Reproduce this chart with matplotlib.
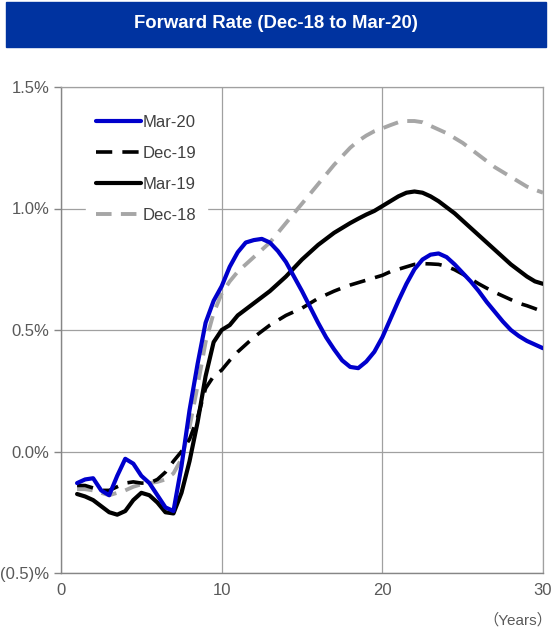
import matplotlib
matplotlib.use("Agg")
import matplotlib.pyplot as plt
from matplotlib.patches import Rectangle
from matplotlib.ticker import FuncFormatter

plt.rcParams['font.family'] = ['Liberation Sans', 'Noto Sans CJK JP', 'DejaVu Sans']

# maturity in years, half-year steps
years = [1, 1.5, 2, 2.5, 3, 3.5, 4, 4.5, 5, 5.5, 6, 6.5, 7, 7.5, 8, 8.5, 9, 9.5,
         10, 10.5, 11, 11.5, 12, 12.5, 13, 13.5, 14, 14.5, 15, 15.5, 16, 16.5,
         17, 17.5, 18, 18.5, 19, 19.5, 20, 20.5, 21, 21.5, 22, 22.5, 23, 23.5,
         24, 24.5, 25, 25.5, 26, 26.5, 27, 27.5, 28, 28.5, 29, 29.5, 30]

# forward rates, %
mar20 = [-0.13, -0.115, -0.11, -0.16, -0.18, -0.10, -0.03, -0.05, -0.10, -0.13,
         -0.18, -0.23, -0.245, -0.06, 0.17, 0.36, 0.53, 0.62,
         0.68, 0.76, 0.82, 0.86, 0.87, 0.875, 0.86, 0.825, 0.78, 0.72, 0.66, 0.595,
         0.53, 0.47, 0.42, 0.375, 0.348, 0.343, 0.37, 0.41, 0.47, 0.545, 0.62, 0.69,
         0.75, 0.79, 0.81, 0.815, 0.80, 0.77, 0.735, 0.70, 0.66, 0.615, 0.575, 0.535,
         0.50, 0.475, 0.455, 0.44, 0.425]
dec19 = [-0.14, -0.14, -0.15, -0.16, -0.16, -0.145, -0.13, -0.125, -0.13, -0.13,
         -0.115, -0.085, -0.04, 0.0, 0.05, 0.14, 0.26, 0.31,
         0.335, 0.375, 0.41, 0.44, 0.47, 0.495, 0.52, 0.54, 0.56, 0.575, 0.59, 0.61,
         0.63, 0.645, 0.66, 0.673, 0.685, 0.695, 0.705, 0.715, 0.725, 0.74, 0.75, 0.76,
         0.77, 0.773, 0.772, 0.77, 0.762, 0.748, 0.73, 0.71, 0.69, 0.672, 0.655, 0.64,
         0.625, 0.61, 0.60, 0.588, 0.575]
mar19 = [-0.175, -0.185, -0.20, -0.225, -0.25, -0.26, -0.245, -0.20, -0.17, -0.18,
         -0.21, -0.25, -0.255, -0.17, -0.04, 0.12, 0.31, 0.45,
         0.50, 0.52, 0.56, 0.585, 0.61, 0.635, 0.66, 0.69, 0.72, 0.755, 0.79, 0.82,
         0.85, 0.875, 0.90, 0.92, 0.94, 0.958, 0.975, 0.99, 1.01, 1.03, 1.05, 1.065,
         1.07, 1.065, 1.05, 1.03, 1.005, 0.98, 0.95, 0.92, 0.89, 0.86, 0.83, 0.80,
         0.77, 0.745, 0.72, 0.70, 0.69]
dec18 = [-0.155, -0.155, -0.16, -0.17, -0.18, -0.17, -0.16, -0.145, -0.135, -0.13,
         -0.125, -0.115, -0.09, -0.03, 0.10, 0.27, 0.45, 0.57,
         0.65, 0.70, 0.74, 0.77, 0.80, 0.83, 0.86, 0.90, 0.94, 0.98, 1.02, 1.06,
         1.10, 1.14, 1.18, 1.215, 1.25, 1.278, 1.30, 1.318, 1.33, 1.343, 1.355, 1.36,
         1.36, 1.355, 1.34, 1.325, 1.31, 1.29, 1.27, 1.245, 1.22, 1.195, 1.17, 1.15,
         1.13, 1.11, 1.09, 1.077, 1.065]

labels = ['Mar-20', 'Dec-19', 'Mar-19', 'Dec-18']
title = 'Forward Rate (Dec-18 to Mar-20)'

fig = plt.figure(figsize=(5.52, 6.32), dpi=100)

# title banner
fig.patches.append(Rectangle((6 / 552, 1 - 47 / 632), 540 / 552, 45 / 632,
                             transform=fig.transFigure, color='#0033a0', zorder=0))
fig.text(0.5, 1 - 24 / 632, title, color='white', fontsize=13.3, fontweight='bold',
         ha='center', va='center')

ax = fig.add_axes([61 / 552, 1 - 573 / 632, 482 / 552, 486 / 632])

style = dict(solid_joinstyle='round', dash_joinstyle='round', solid_capstyle='round')
ax.plot(years, dec18, color='#a6a6a6', lw=2.8, ls=(0, (4, 2.4)), label=labels[3], zorder=3, **style)
ax.plot(years, dec19, color='black', lw=2.6, ls=(0, (4.5, 2.8)), label=labels[1], zorder=4, **style)
ax.plot(years, mar19, color='black', lw=3.0, label=labels[2], zorder=5, **style)
ax.plot(years, mar20, color='#0000cc', lw=3.0, label=labels[0], zorder=6, **style)

ax.set_xlim(0, 30)
ax.set_ylim(-0.5, 1.5)
ax.set_xticks([0, 10, 20, 30])
ax.set_yticks([-0.5, 0.0, 0.5, 1.0, 1.5])

def pct(v, pos):
    if v < 0:
        return '({:.1f})%'.format(-v)
    return '{:.1f}%'.format(v)

ax.yaxis.set_major_formatter(FuncFormatter(pct))
ax.grid(True, color='#a0a0a0', lw=0.9)
ax.set_axisbelow(True)
for side in ['left', 'bottom']:
    ax.spines[side].set_color('#868686')
    ax.spines[side].set_linewidth(1.0)
for side in ['top', 'right']:
    ax.spines[side].set_color('#a0a0a0')
    ax.spines[side].set_linewidth(0.9)

ax.tick_params(axis='y', colors='#868686', labelcolor='#595959', labelsize=12,
               length=5, width=1.0, pad=3.5)
ax.tick_params(axis='x', labelcolor='#595959', labelsize=12, length=0, pad=7)

handles, lbls = ax.get_legend_handles_labels()
order = [3, 1, 2, 0]
leg = ax.legend([handles[i] for i in order], [lbls[i] for i in order],
                loc='upper left', bbox_to_anchor=(0.035, 0.98), frameon=True,
                fontsize=12, handlelength=2.7, handletextpad=0.1,
                labelspacing=0.95, borderpad=0.6, fancybox=False)
leg.get_frame().set_edgecolor('white')
leg.get_frame().set_facecolor('white')
leg.get_frame().set_alpha(1.0)
for t in leg.get_texts():
    t.set_color('#404040')

fig.text(1.0, 1 - 620 / 632, '（Years）', color='#595959', fontsize=11,
         ha='right', va='center')

fig.savefig('out.png', dpi=100)
